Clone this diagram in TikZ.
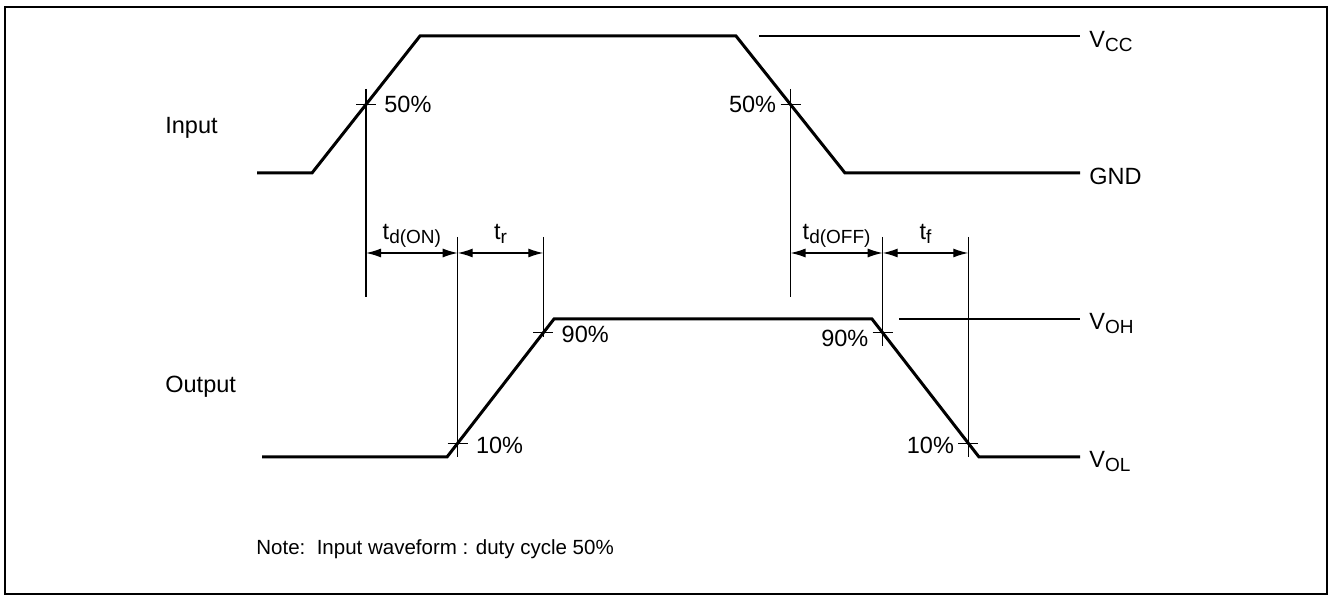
\documentclass[tikz,border=0pt]{standalone}
\usepackage{fontspec}
\setmainfont{Liberation Sans}
\usetikzlibrary{positioning,calc,arrows.meta}
\newcommand\lowsub[1]{\raisebox{-2pt}{\fontsize{9.5}{10}\selectfont #1}}

\begin{document}
\begin{tikzpicture}[x=0.5pt,y=-0.5pt,
   wave/.style={line width=1.5pt},
   guide/.style={line width=0.65pt},
   lbl/.style={font=\fontsize{11.75}{13}\selectfont,inner sep=0pt},
   dim/.style={guide,{Latex[length=7.5pt,width=4.5pt]}-{Latex[length=7.5pt,width=4.5pt]}}]
   \useasboundingbox (0,0) rectangle (1330,597);
   \draw[line width=1pt] (5,7) rectangle (1327,594);

   % input waveform
   \coordinate (i0)   at (257,173);
   \coordinate (i1)   at (312,173);
   \coordinate (i2)   at (420,36);
   \coordinate (i3)   at (736,36);
   \coordinate (i4)   at (845,173);
   \coordinate (i5)   at (1080,173);
   \coordinate (vcc0) at (759,36);
   \coordinate (vcc1) at (1080,36);
   \draw[wave ] (i0) -- (i1) -- (i2) -- (i3) -- (i4) -- (i5);
   \draw[guide] (vcc0) -- (vcc1);

   % output waveform
   \coordinate (o0)   at (262,457);
   \coordinate (o1)   at (447,457);
   \coordinate (o2)   at (554,319);
   \coordinate (o3)   at (872,319);
   \coordinate (o4)   at (979,457);
   \coordinate (o5)   at (1080,457);
   \coordinate (voh0) at (899,319);
   \coordinate (voh1) at (1080,319);
   \draw[wave ] (o0) -- (o1) -- (o2) -- (o3) -- (o4) -- (o5);
   \draw[guide] (voh0) -- (voh1);

   % measuring points
   \coordinate (in50r)  at ($(i1)!0.5!(i2)$);
   \coordinate (in50f)  at ($(i3)!0.5!(i4)$);
   \coordinate (out10r) at ($(o1)!0.1!(o2)$);
   \coordinate (out90r) at ($(o1)!0.9!(o2)$);
   \coordinate (out90f) at ($(o3)!0.1!(o4)$);
   \coordinate (out10f) at ($(o3)!0.9!(o4)$);
   \foreach \m in {in50r,in50f,out10r,out90r,out90f,out10f}
      \draw[guide] ($(\m)+(-10,0)$) -- ($(\m)+(10,0)$);

   \coordinate (itop) at (0,89);
   \coordinate (ibot) at (0,297);
   \coordinate (otop) at (0,237);
   \coordinate (dimy) at (0,253);
   \draw[guide] (in50r  |- itop) -- (in50r  |- ibot);
   \draw[guide] (in50f  |- itop) -- (in50f  |- ibot);
   \draw[guide] (out10r |- otop) -- (out10r |- o1);
   \draw[guide] (out90r |- otop) -- ($(out90r)+(0,4)$);
   \draw[guide] (out90f |- otop) -- ($(out90f)+(0,13)$);
   \draw[guide] (out10f |- otop) -- (out10f |- o4);

   \draw[dim] (in50r  |- dimy) -- node[lbl,text depth=4.5pt,above=2pt] (tdon)  {t\lowsub{d(ON)}}  (out10r |- dimy);
   \draw[dim] (out10r |- dimy) -- node[lbl,text depth=4.5pt,above=2pt] (tr)    {t\lowsub{r}}      (out90r |- dimy);
   \draw[dim] (in50f  |- dimy) -- node[lbl,text depth=4.5pt,above=2pt] (tdoff) {t\lowsub{d(OFF)}} (out90f |- dimy);
   \draw[dim] (out90f |- dimy) -- node[lbl,text depth=4.5pt,above=2pt] (tf)    {t\lowsub{f}}      (out10f |- dimy);

   % percent labels
   \node[lbl,right=9pt of in50r             ] (p50r) {50\%};
   \node[lbl,left=7pt  of in50f             ] (p50f) {50\%};
   \node[lbl,right=9pt of out10r,yshift=-1pt] (p10r) {10\%};
   \node[lbl,right=9pt of out90r,yshift=-1pt] (p90r) {90\%};
   \node[lbl,left=7pt  of out90f,yshift=-3pt] (p90f) {90\%};
   \node[lbl,left=7pt  of out10f,yshift=-1pt] (p10f) {10\%};

   % levels
   \node[lbl,anchor=base west] (vcc) at ($(vcc1)+(9,12)$) {V\lowsub{CC}};
   \node[lbl,anchor=base west] (gnd) at ($(i5)+(9,12)$)   {GND};
   \node[lbl,anchor=base west] (voh) at ($(voh1)+(9,11)$) {V\lowsub{OH}};
   \node[lbl,anchor=base west] (vol) at ($(o5)+(9,11)$)   {V\lowsub{OL}};

   \node[lbl,anchor=west] (input)  at (165,128) {Input};
   \node[lbl,anchor=west] (output) at (165,387) {Output};
   \node[lbl,anchor=west,font=\fontsize{10.25}{12}\selectfont] (note) at (256,549) {Note:\ \ Input waveform : duty cycle 50\%};
\end{tikzpicture}
\end{document}
